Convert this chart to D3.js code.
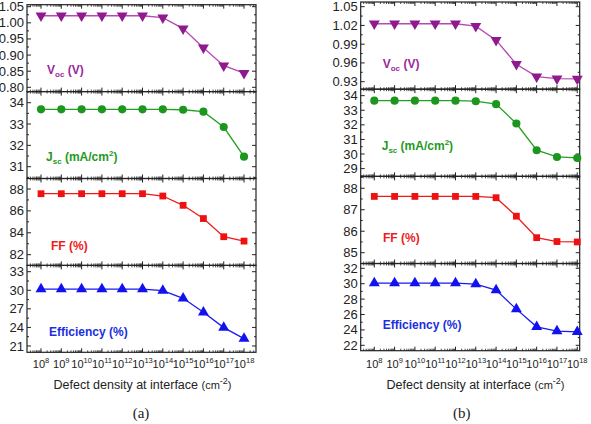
<!DOCTYPE html>
<html><head><meta charset="utf-8">
<script src="https://cdn.jsdelivr.net/npm/d3@7"></script>
<style>
body{margin:0;background:#fff;}
svg{display:block;font-family:"Liberation Sans",Arial,sans-serif;}
</style></head><body>
<svg id="chart" width="591" height="424"></svg>
<script>
// ---- data ----
const exponents = [8,9,10,11,12,13,14,15,16,17,18];
const vocA = [1.022,1.022,1.022,1.022,1.022,1.022,1.016,0.982,0.923,0.867,0.844];
const jscA = [33.69,33.69,33.69,33.69,33.69,33.69,33.69,33.67,33.58,32.86,31.47];
const ffA  = [87.57,87.57,87.57,87.57,87.57,87.57,87.36,86.51,85.30,83.64,83.24];
const effA = [30.2,30.2,30.2,30.2,30.2,30.2,29.94,28.7,26.45,23.97,22.2];
const vocB = [1.0227,1.0227,1.0227,1.0227,1.0227,1.0189,0.9965,0.958,0.938,0.935,0.9344];
const jscB = [33.66,33.66,33.66,33.66,33.66,33.62,33.42,32.09,30.26,29.80,29.73];
const ffB  = [87.62,87.62,87.62,87.62,87.62,87.62,87.56,86.70,85.70,85.52,85.50];
const effB = [30.08,30.08,30.08,30.08,30.08,29.95,29.17,26.7,24.4,23.85,23.75];
const ticksVocA = [0.80,0.85,0.90,0.95,1.00,1.05];
const ticksJscA = [31,32,33,34];
const ticksFfA  = [82,84,86,88];
const ticksEffA = [21,24,27,30,33];
const ticksVocB = [0.93,0.96,0.99,1.02,1.05];
const ticksJscB = [29,30,31,32,33,34];
const ticksFfB  = [85,86,87,88];
const ticksEffB = [22,24,26,28,30,32];
const panelCaptions = ["(a)","(b)"];

const svg = d3.select("#chart");
const styles = [
  {name:"voc", line:"#b548b5", fill:"#8e1a8e", text:"#9a2a9a", sym:"down"},
  {name:"jsc", line:"#22a022", fill:"#1d961d", text:"#1f9a1f", sym:"circle"},
  {name:"ff",  line:"#f01818", fill:"#ee1111", text:"#ee1c1c", sym:"square"},
  {name:"eff", line:"#1a1af0", fill:"#1212ee", text:"#1b2fe0", sym:"up"}
];

const charts = [
  {left:27, right:256, top:4.7, bottom:352.3, xdom:[Math.pow(10,7.31),Math.pow(10,18.59)],
   series:[vocA,jscA,ffA,effA],
   doms:[[0.7867,1.0562],[30.447,34.52],[81.02,88.96],[19.98,34.02]],
   ticks:[ticksVocA,ticksJscA,ticksFfA,ticksEffA], fmt:[".2f","d","d","d"],
   labelPos:[[47,74],[46,161],[51,250],[49,336]], titleX:142.5, capX:141},
  {left:360.7, right:579.7, top:2, bottom:350.7, xdom:[Math.pow(10,7.33),Math.pow(10,18.12)],
   series:[vocB,jscB,ffB,effB],
   doms:[[0.918,1.0575],[28.47,34.445],[84.497,88.554],[21.3,32.62]],
   ticks:[ticksVocB,ticksJscB,ticksFfB,ticksEffB], fmt:[".2f","d","d","d"],
   labelPos:[[382.7,68],[381.7,150],[383,242],[382.7,329]], titleX:475.5, capX:461.7}
];

const labelParts = [
  [["V",""],["oc","sub"],[" (V)",""]],
  [["J",""],["sc","sub"],[" (mA/cm",""],["2","sup"],[")",""]],
  [["FF (%)",""]],
  [["Efficiency (%)",""]]
];

const xs = exponents.map(e => Math.pow(10,e));

charts.forEach((c,ci) => {
  const x = d3.scaleLog().domain(c.xdom).range([c.left,c.right]);
  const ph = (c.bottom - c.top)/4;
  const minor = [];
  for (let d=7; d<=18; d++) for (let k=2;k<=9;k++){const v=k*Math.pow(10,d); if(v>c.xdom[0]&&v<c.xdom[1]) minor.push(v);}
  c.series.forEach((vals,pi) => {
    const st = styles[pi];
    const y0 = c.top + pi*ph, y1 = y0 + ph;
    const y = d3.scaleLinear().domain(c.doms[pi]).range([y1,y0]);
    const g = svg.append("g");
    g.append("rect").attr("x",c.left).attr("y",y0).attr("width",c.right-c.left).attr("height",ph)
      .attr("fill","none").attr("stroke","#222").attr("stroke-width",1.2);
    [[y1,-1],[y0,1]].forEach(([yy,dir]) => {
      xs.forEach(v => g.append("line").attr("x1",x(v)).attr("x2",x(v)).attr("y1",yy).attr("y2",yy+dir*4)
        .attr("stroke","#222").attr("stroke-width",1));
      minor.forEach(v => g.append("line").attr("x1",x(v)).attr("x2",x(v)).attr("y1",yy).attr("y2",yy+dir*2)
        .attr("stroke","#222").attr("stroke-width",0.8));
    });
    const tk = c.ticks[pi];
    const step = tk[1]-tk[0];
    const minorY = [];
    for (let v=tk[0]-step*2; v<=tk[tk.length-1]+step*2; v+=step/2){
      const vv = +v.toFixed(6);
      if (vv>c.doms[pi][0] && vv<c.doms[pi][1]) minorY.push(vv);
    }
    [[c.left,1],[c.right,-1]].forEach(([xx,dir]) => {
      minorY.forEach(v => {
        const isMaj = tk.some(t => Math.abs(t-v)<1e-6);
        g.append("line").attr("x1",xx).attr("x2",xx+dir*(isMaj?4:2)).attr("y1",y(v)).attr("y2",y(v))
          .attr("stroke","#222").attr("stroke-width",1);
      });
    });
    const f = d3.format(c.fmt[pi]);
    tk.forEach(t => g.append("text").attr("x",c.left-3).attr("y",y(t)).attr("dy","0.35em")
      .attr("text-anchor","end").attr("font-size",13).attr("fill","#222").text(f(t)));
    const line = d3.line().x((d,i)=>x(xs[i])).y(d=>y(d));
    g.append("path").datum(vals).attr("d",line).attr("fill","none").attr("stroke",st.line).attr("stroke-width",1.3);
    const sym = st.sym==="circle"?d3.symbolCircle:st.sym==="square"?d3.symbolSquare:d3.symbolTriangle;
    const size = st.sym==="circle"?52:st.sym==="square"?46:52;
    vals.forEach((v,i) => {
      g.append("path").attr("d",d3.symbol().type(sym).size(size)())
        .attr("transform",`translate(${x(xs[i])},${y(v)})${st.sym==="down"?" rotate(180)":""}`)
        .attr("fill",st.fill);
    });
    const [lx,ly] = c.labelPos[pi];
    const t = g.append("text").attr("x",lx).attr("y",ly).attr("font-size",12).attr("font-weight","bold").attr("fill",st.text);
    labelParts[pi].forEach(([s,kind],i) => {
      const sp = t.append("tspan").text(s);
      const prev = i>0 ? labelParts[pi][i-1][1] : "";
      if (kind==="sub") sp.attr("font-size",8).attr("dy",3);
      else if (kind==="sup") sp.attr("font-size",8).attr("dy",-5);
      else if (prev==="sub") sp.attr("dy",-3);
      else if (prev==="sup") sp.attr("dy",5);
    });
  });
  // x tick labels
  exponents.forEach((e,i) => {
    const t = svg.append("text").attr("x",x(xs[i])).attr("y",368).attr("text-anchor","middle")
      .attr("font-size",11).attr("fill","#222");
    t.append("tspan").text("10");
    t.append("tspan").attr("font-size",7.5).attr("dy",-5).text(e);
  });
  const tt = svg.append("text").attr("x",c.titleX).attr("y",389).attr("text-anchor","middle")
    .attr("font-size",12.5).attr("fill","#222");
  tt.append("tspan").text("Defect density at interface ");
  tt.append("tspan").attr("font-size",11).text("(cm");
  tt.append("tspan").attr("font-size",9).attr("dy",-5).text("-2");
  tt.append("tspan").attr("font-size",11).attr("dy",5).text(")");
  svg.append("text").attr("x",c.capX).attr("y",418).attr("text-anchor","middle")
    .attr("font-family","'Liberation Serif','Times New Roman',serif").attr("font-size",15).attr("fill","#222")
    .text(panelCaptions[ci]);
});
</script>
</body></html>
